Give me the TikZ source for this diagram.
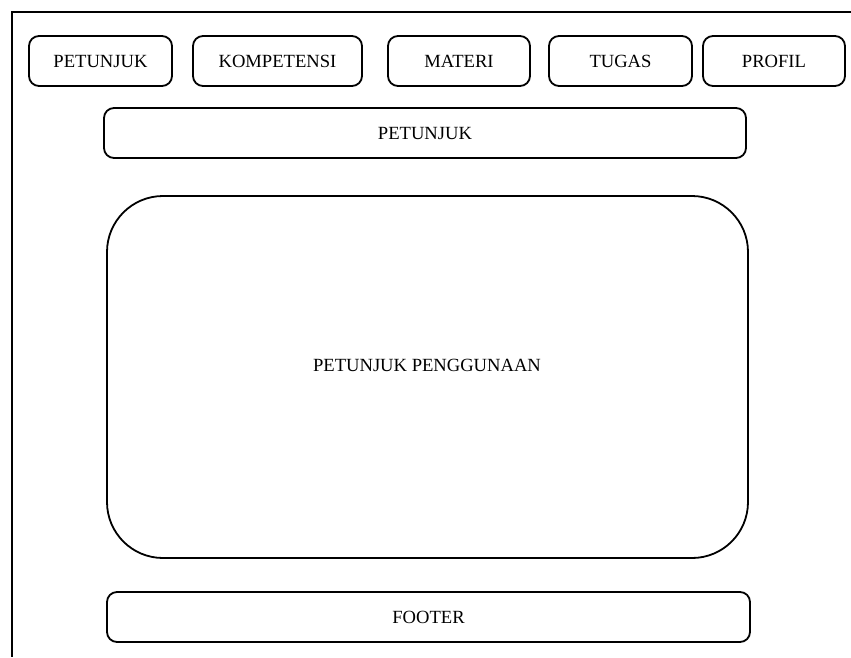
\documentclass[tikz,border=0pt]{standalone}
\usepackage{fontspec}
\setmainfont{Liberation Serif}
\begin{document}
\begin{tikzpicture}[x=1pt,y=-1pt,
  box/.style={draw,line width=1.8pt,rounded corners=10pt,inner sep=0pt,
    minimum height=50pt,font=\fontsize{18.6}{21}\selectfont},
  bigbox/.style={draw,line width=1.8pt,rounded corners=56pt,inner sep=0pt},
  lbl/.style={font=\fontsize{18.6}{21}\selectfont,inner sep=0pt}]
\useasboundingbox (0,0) rectangle (851,657);
\coordinate (ftr) at (851,12);
\coordinate (ftl) at (12,12);
\coordinate (fbl) at (12,657);
\draw[line width=1.8pt] (ftr) -- (ftl) -- (fbl);
\node[box,minimum width=143pt] (petunjuk) at (100.5,61) {PETUNJUK};
\node[box,minimum width=169pt] (kompetensi) at (277.5,61) {KOMPETENSI};
\node[box,minimum width=142pt] (materi) at (459,61) {MATERI};
\node[box,minimum width=143pt] (tugas) at (620.5,61) {TUGAS};
\node[box,minimum width=142pt] (profil) at (774,61) {PROFIL};
\node[box,minimum width=642pt] (header) at (425,133) {PETUNJUK};
\node[bigbox,minimum width=641pt,minimum height=362pt] (content) at (427.5,377) {};
\node[lbl] (contenttext) at (427,365) {PETUNJUK PENGGUNAAN};
\node[box,minimum width=643pt] (footer) at (428.5,617) {FOOTER};
\end{tikzpicture}
\end{document}
